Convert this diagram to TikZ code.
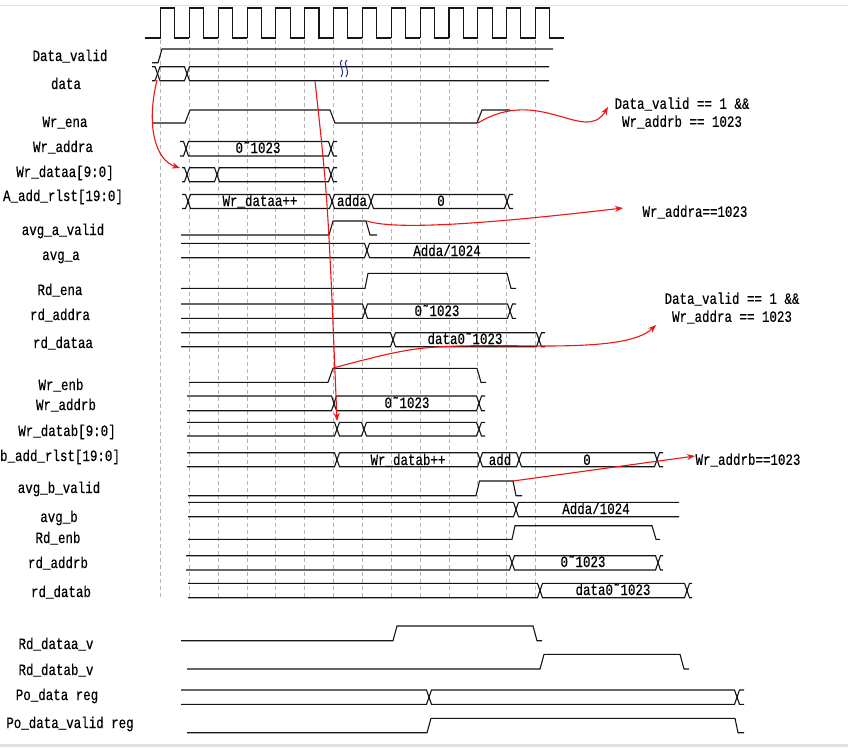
\documentclass[tikz,border=0pt]{standalone}
\usepackage{fontspec}
\setmainfont{Liberation Mono}[FakeStretch=0.79,FakeBold=0.4]
\usetikzlibrary{arrows.meta}
\definecolor{sigc}{HTML}{151515}
\definecolor{gridc}{HTML}{B4B4B4}
\definecolor{redc}{HTML}{F01414}
\definecolor{brkc}{HTML}{203A8C}
\definecolor{framec}{HTML}{E2E2E6}
% bus helpers (x1, x2, ytop, ybottom)
\newcommand\bseg[4]{\draw[sigl] (#1,{(#3+#4)/2}) -- ({#1+2.5},#3) -- ({#2-2.5},#3) -- (#2,{(#3+#4)/2}) -- ({#2-2.5},#4) -- ({#1+2.5},#4) -- cycle;}
\newcommand\bopenl[4]{\draw[sigl] (#1,#3) -- ({#2-2.5},#3) -- (#2,{(#3+#4)/2}) -- ({#2-2.5},#4) -- (#1,#4);}
\newcommand\bopenr[4]{\draw[sigl] (#2,#3) -- ({#1+2.5},#3) -- (#1,{(#3+#4)/2}) -- ({#1+2.5},#4) -- (#2,#4);}
\begin{document}
\begin{tikzpicture}[x=1pt,y=-1pt,
  sigl/.style={line width=1.1pt,color=sigc,line join=miter},
  gridl/.style={line width=0.9pt,color=gridc,dash pattern=on 4pt off 3pt},
  lab/.style={font=\fontsize{15.8}{18}\selectfont,inner sep=0pt,anchor=base,text=black},
  ann/.style={font=\fontsize{15.8}{18}\selectfont,inner sep=0pt,align=center,text=black},
  redarr/.style={line width=1.1pt,color=redc,-{Stealth[length=8pt,width=6pt]}}]
\useasboundingbox (0,0) rectangle (848,747);
\fill[white] (0,0) rectangle (848,747);
\draw[framec,line width=1pt] (0,5) -- (848,5);
\fill[framec] (0,744) rectangle (848,747);

% dashed grid at rising clock edges
\foreach \k in {0,...,13} {
  \draw[gridl] ({160.5+28.85*\k},40) -- ({160.5+28.85*\k},598);
}

% clock
\draw[sigl] (145,38) -- (160.5,38);
\foreach \k in {0,...,13} {
  \pgfmathsetmacro\r{160.5+28.85*\k}
  \draw[sigl] (\r,38) -- (\r,8) -- ({\r+14.2},8) -- ({\r+14.2},38) -- ({\r+28.85},38);
}

% labels
\node[lab] (l1) at (70,61) {Data\_valid};
\node[lab] (l2) at (66,89) {data};
\node[lab] (l3) at (65,127) {Wr\_ena};
\node[lab] (l4) at (63,152) {Wr\_addra};
\node[lab] (l5) at (65,177) {Wr\_dataa[9:0]};
\node[lab] (l6) at (63,201) {A\_add\_rlst[19:0]};
\node[lab] (l7) at (63,235) {avg\_a\_valid};
\node[lab] (l8) at (61,260) {avg\_a};
\node[lab] (l9) at (60,295) {Rd\_ena};
\node[lab] (l10) at (60,320) {rd\_addra};
\node[lab] (l11) at (63,348) {rd\_dataa};
\node[lab] (l12) at (61,390) {Wr\_enb};
\node[lab] (l13) at (66,410) {Wr\_addrb};
\node[lab] (l14) at (67,436) {Wr\_datab[9:0]};
\node[lab] (l15) at (60,461) {b\_add\_rlst[19:0]};
\node[lab] (l16) at (59,493) {avg\_b\_valid};
\node[lab] (l17) at (59,522) {avg\_b};
\node[lab] (l18) at (58,543) {Rd\_enb};
\node[lab] (l19) at (58,568) {rd\_addrb};
\node[lab] (l20) at (61,597) {rd\_datab};
\node[lab] (l21) at (56,649) {Rd\_dataa\_v};
\node[lab] (l22) at (56,675) {Rd\_datab\_v};
\node[lab] (l23) at (57,700) {Po\_data reg};
\node[lab] (l24) at (70,728) {Po\_data\_valid reg};

% Data_valid
\draw[sigl] (152,62.7) -- (158,62.7) -- (162,49) -- (553,49);
% data
\bopenl{152}{157.5}{66.7}{80.7}
\bseg{157.5}{187}{66.7}{80.7}
\bopenr{187}{549}{66.7}{80.7}
\draw[brkc,line width=1pt] (342,60) .. controls (337,65) and (346,69) .. (341,77);
\draw[brkc,line width=1pt] (347,60) .. controls (342,65) and (351,69) .. (346,77);
% Wr_ena
\draw[sigl] (152,123) -- (185,123) -- (190,110) -- (330,110) -- (335,123) -- (477,123) -- (482,110) -- (510,110);
% Wr_addra
\bopenl{180}{186}{141.5}{156}
\bseg{186}{331}{141.5}{156}
\bopenr{331}{337}{141.5}{156}
\node[lab] (t1) at (258,153) {0˜1023};
% Wr_dataa
\bopenl{182}{187}{167.7}{181.7}
\bseg{187}{217}{167.7}{181.7}
\bseg{217}{331}{167.7}{181.7}
\bopenr{331}{337}{167.7}{181.7}
% A_add_rlst
\bopenl{182}{188}{194.5}{208.5}
\bseg{188}{332}{194.5}{208.5}
\bseg{332}{371}{194.5}{208.5}
\bseg{371}{507}{194.5}{208.5}
\bopenr{507}{513}{194.5}{208.5}
\node[lab] (t2) at (260,206) {Wr\_dataa++};
\node[lab] (t3) at (352,206) {adda};
\node[lab] (t4) at (441,206) {0};
% avg_a_valid
\draw[sigl] (181,235) -- (329,235) -- (333,221) -- (366,221) -- (370,235) -- (377,235);
% avg_a
\bopenl{181}{367}{243.3}{257.7}
\bopenr{367}{530}{243.3}{257.7}
\node[lab] (t5) at (447,256) {Adda/1024};
% Rd_ena
\draw[sigl] (181,288.3) -- (365,288.3) -- (368,273.3) -- (507,273.3) -- (511,288.3) -- (516,288.3);
% rd_addra
\bopenl{181}{365}{304}{318.3}
\bseg{365}{510}{304}{318.3}
\bopenr{510}{516}{304}{318.3}
\node[lab] (t6) at (437,316) {0˜1023};
% rd_dataa
\bopenl{181}{393}{332.7}{346.7}
\bseg{393}{539}{332.7}{346.7}
\bopenr{539}{545}{332.7}{346.7}
\node[lab] (t7) at (465,344) {data0˜1023};
% Wr_enb
\draw[sigl] (189,382.3) -- (328,382.3) -- (333,368.3) -- (477,368.3) -- (481,382.3) -- (486,382.3);
% Wr_addrb
\bopenl{187}{334}{396}{410.7}
\bseg{334}{479}{396}{410.7}
\bopenr{479}{485}{396}{410.7}
\node[lab] (t8) at (407,408) {0˜1023};
% Wr_datab
\bopenl{187}{337}{422.3}{436}
\bseg{337}{364}{422.3}{436}
\bseg{364}{479}{422.3}{436}
\bopenr{479}{485}{422.3}{436}
% b_add_rlst
\bopenl{187}{337}{452.7}{466.7}
\bseg{337}{480}{452.7}{466.7}
\bseg{480}{519}{452.7}{466.7}
\bseg{519}{657}{452.7}{466.7}
\bopenr{657}{663}{452.7}{466.7}
\node[lab] (t9) at (408,465) {Wr\_datab++};
\node[lab] (t10) at (500,465) {add};
\node[lab] (t11) at (587,465) {0};
% avg_b_valid
\draw[sigl] (188,495.7) -- (476,495.7) -- (479.5,481) -- (513,481) -- (516,495.7) -- (522,495.7);
% avg_b
\bopenl{188}{516}{502.3}{516.7}
\bopenr{516}{679}{502.3}{516.7}
\node[lab] (t12) at (596,514) {Adda/1024};
% Rd_enb
\draw[sigl] (188,539.3) -- (512,539.3) -- (515,525.7) -- (652,525.7) -- (656,539.3) -- (660,539.3);
% rd_addrb
\bopenl{186}{512}{555.7}{570}
\bseg{512}{658}{555.7}{570}
\bopenr{658}{663}{555.7}{570}
\node[lab] (t13) at (583,567) {0˜1023};
% rd_datab
\bopenl{188}{540}{583.3}{597.7}
\bseg{540}{687}{583.3}{597.7}
\bopenr{687}{692}{583.3}{597.7}
\node[lab] (t14) at (613,595) {data0˜1023};
% Rd_dataa_v
\draw[sigl] (181,640.7) -- (393,640.7) -- (397,626) -- (533,626) -- (537,640.7) -- (542,640.7);
% Rd_datab_v
\draw[sigl] (187,669) -- (540,669) -- (544,654.3) -- (680,654.3) -- (684,669) -- (689,669);
% Po_data reg
\bopenl{181}{429}{690}{704.3}
\bseg{429}{737}{690}{704.3}
\bopenr{737}{744}{690}{704.3}
% Po_data_valid reg
\draw[sigl] (187,732.7) -- (427,732.7) -- (431,718.3) -- (735,718.3) -- (738,732.7) -- (744,732.7);

% annotations
\node[ann] (a1) at (682,113) {Data\_valid == 1 \&\&\\Wr\_addrb == 1023};
\node[ann] (a2) at (695,212) {Wr\_addra==1023};
\node[ann] (a3) at (732,308) {Data\_valid == 1 \&\&\\Wr\_addra == 1023};
\node[ann] (a4) at (748,460) {Wr\_addrb==1023};

% red connectors
\coordinate (sA) at (157,80);  \coordinate (eA) at (180,168);
\coordinate (sB) at (478,123); \coordinate (eB) at (608,107);
\coordinate (sC) at (367,221); \coordinate (eC) at (623,208);
\coordinate (sD) at (315,81);  \coordinate (eD) at (337,421);
\coordinate (sE) at (333,368); \coordinate (mE) at (545,346); \coordinate (eE) at (656,325);
\coordinate (sF) at (513,481); \coordinate (eF) at (695,456);
\draw[redarr] (sA) .. controls (146,125) and (155,160) .. (eA);
\draw[redarr] (sB) .. controls (540,85) and (585,145) .. (eB);
\draw[redarr] (sC) .. controls (400,232) and (520,220) .. (eC);
\draw[redarr] (sD) .. controls (328,200) .. (eD);
\draw[redarr] (sE) .. controls (420,345) .. (mE) .. controls (612,346) and (640,340) .. (eE);
\draw[redarr] (sF) -- (eF);
\end{tikzpicture}
\end{document}
